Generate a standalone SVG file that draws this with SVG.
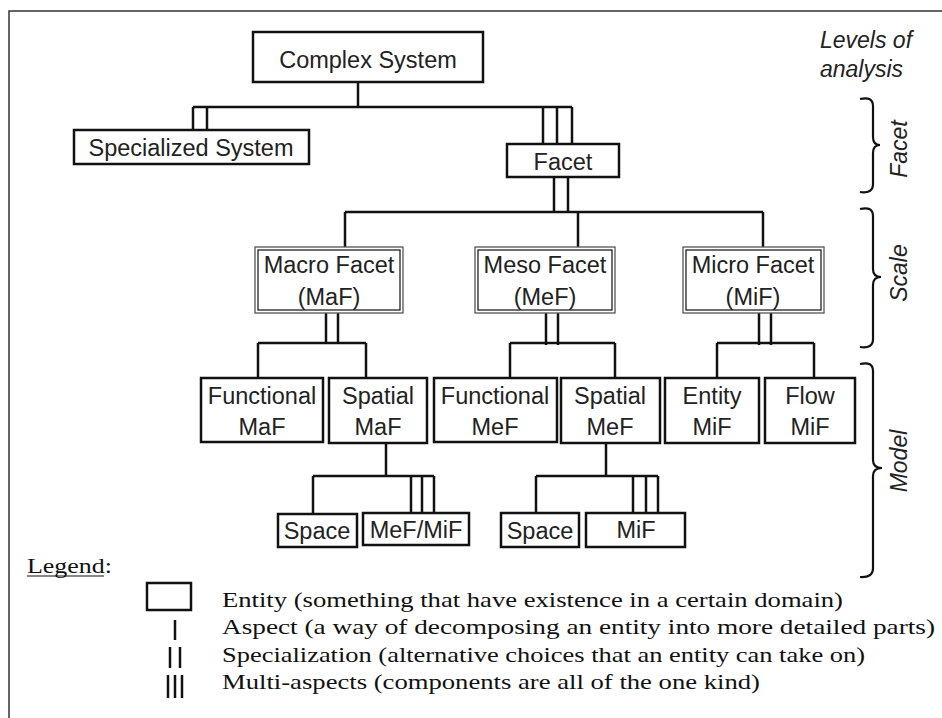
<svg xmlns="http://www.w3.org/2000/svg" width="942" height="718" viewBox="0 0 942 718">
<style>
.box{fill:#fff;stroke:#111;stroke-width:2.5}
.dbo{fill:#fff;stroke:#555;stroke-width:1.3}
.dbi{fill:none;stroke:#222;stroke-width:1.3}
.ln{fill:none;stroke:#111;stroke-width:2.5}
.br{fill:none;stroke:#111;stroke-width:2.2}
.t{font-family:"Liberation Sans",Arial,sans-serif;font-size:23.5px;fill:#222;text-anchor:middle}
.it{font-family:"Liberation Sans",Arial,sans-serif;font-size:23px;font-style:italic;fill:#222}
.lg{font-family:"Liberation Serif","Times New Roman",serif;font-size:21.5px;fill:#111}
</style>
<rect width="942" height="718" fill="#fff"/>
<path d="M9,718 V11 H942" fill="none" stroke="#333" stroke-width="1.5"/>

<g id="connectors">
  <path class="ln" d="M358,82 V107 M193,107 H572"/>
  <path class="ln" d="M193,107 V130 M207,107 V130"/>
  <path class="ln" d="M543,107 V144 M557,107 V144 M572,107 V144"/>
  <path class="ln" d="M554,177 V212 M568,177 V212"/>
  <path class="ln" d="M345,212 H763 M345,212 V247 M578,212 V247 M763,212 V247"/>
  <path class="ln" d="M326,313 V343 M338,313 V343 M258,343 H366 M258,343 V378 M366,343 V378"/>
  <path class="ln" d="M546,313 V345 M558,313 V345 M510,343 H615 M510,343 V378 M615,343 V378"/>
  <path class="ln" d="M759,313 V345 M771,313 V345 M717,343 H814 M717,343 V378 M814,343 V378"/>
  <path class="ln" d="M386,443 V476 M313,476 H434 M313,476 V514 M411,476 V513 M422,476 V513 M434,476 V513"/>
  <path class="ln" d="M606,443 V476 M536,476 H658 M536,476 V513 M633,476 V513 M646,476 V513 M658,476 V513"/>
</g>

<g id="complex-system"><rect class="box" x="253" y="32" width="230" height="50"/><text class="t" x="368" y="68">Complex System</text></g>
<g id="specialized-system"><rect class="box" x="74" y="130" width="235" height="34"/><text class="t" x="191" y="156">Specialized System</text></g>
<g id="facet"><rect class="box" x="507" y="144" width="112" height="33"/><text class="t" x="563" y="170">Facet</text></g>

<g id="macro-facet"><rect class="dbo" x="255" y="247" width="148" height="66"/><rect class="dbi" x="258" y="250" width="142" height="60"/><text class="t" x="329" y="273">Macro Facet</text><text class="t" x="329" y="305">(MaF)</text></g>
<g id="meso-facet"><rect class="dbo" x="475" y="247" width="140" height="66"/><rect class="dbi" x="478" y="250" width="134" height="60"/><text class="t" x="545" y="273">Meso Facet</text><text class="t" x="545" y="305">(MeF)</text></g>
<g id="micro-facet"><rect class="dbo" x="683" y="247" width="141" height="66"/><rect class="dbi" x="686" y="250" width="135" height="60"/><text class="t" x="753" y="273">Micro Facet</text><text class="t" x="753" y="305">(MiF)</text></g>

<g id="functional-maf"><rect class="box" x="201" y="378" width="122" height="64"/><text class="t" x="262" y="404">Functional</text><text class="t" x="262" y="435">MaF</text></g>
<g id="spatial-maf"><rect class="box" x="329" y="378" width="98" height="65"/><text class="t" x="378" y="404">Spatial</text><text class="t" x="378" y="435">MaF</text></g>
<g id="functional-mef"><rect class="box" x="434" y="378" width="123" height="64"/><text class="t" x="495" y="404">Functional</text><text class="t" x="495" y="435">MeF</text></g>
<g id="spatial-mef"><rect class="box" x="561" y="378" width="99" height="65"/><text class="t" x="610" y="404">Spatial</text><text class="t" x="610" y="435">MeF</text></g>
<g id="entity-mif"><rect class="box" x="665" y="378" width="94" height="65"/><text class="t" x="712" y="404">Entity</text><text class="t" x="712" y="435">MiF</text></g>
<g id="flow-mif"><rect class="box" x="765" y="378" width="90" height="65"/><text class="t" x="810" y="404">Flow</text><text class="t" x="810" y="435">MiF</text></g>

<g id="space-1"><rect class="box" x="278" y="514" width="79" height="33"/><text class="t" x="317" y="539">Space</text></g>
<g id="mef-mif"><rect class="box" x="363" y="513" width="106" height="32"/><text class="t" x="416" y="538">MeF/MiF</text></g>
<g id="space-2"><rect class="box" x="501" y="513" width="78" height="34"/><text class="t" x="540" y="539">Space</text></g>
<g id="mif"><rect class="box" x="586" y="513" width="99" height="34"/><text class="t" x="636" y="538">MiF</text></g>

<g id="levels">
  <text class="it" x="820" y="48">Levels of</text>
  <text class="it" x="820" y="77">analysis</text>
  <path class="br" d="M860,99 Q873,96 873,106 V137 Q873,145 880,145 Q873,145 873,153 V184 Q873,194 860,192"/>
  <text class="it" transform="translate(907,149) rotate(-90)" text-anchor="middle">Facet</text>
  <path class="br" d="M860,209 Q873,206 873,216 V269 Q873,277 881,277 Q873,277 873,285 V339 Q873,349 860,347"/>
  <text class="it" transform="translate(907,273) rotate(-90)" text-anchor="middle">Scale</text>
  <path class="br" d="M860,364 Q873,361 873,371 V460 Q873,468 882,468 Q873,468 873,476 V568 Q873,578 860,577"/>
  <text class="it" transform="translate(907,461) rotate(-90)" text-anchor="middle">Model</text>
</g>

<g id="legend">
  <text class="lg" x="27" y="573" textLength="85" lengthAdjust="spacingAndGlyphs">Legend:</text>
  <line x1="27" y1="576" x2="104" y2="576" stroke="#111" stroke-width="1.2"/>
  <rect class="box" x="147" y="583" width="44" height="27" stroke-width="2.2"/>
  <path class="ln" stroke-width="2.2" d="M175,620 V640 M170,647 V668 M180,647 V668 M168,675 V698 M175,675 V698 M182,675 V698"/>
  <text class="lg" x="222" y="607" textLength="621" lengthAdjust="spacingAndGlyphs">Entity (something that have existence in a certain domain)</text>
  <text class="lg" x="222" y="634" textLength="713" lengthAdjust="spacingAndGlyphs">Aspect (a way of decomposing an entity into more detailed parts)</text>
  <text class="lg" x="222" y="662" textLength="643" lengthAdjust="spacingAndGlyphs">Specialization (alternative choices that an entity can take on)</text>
  <text class="lg" x="222" y="689" textLength="538" lengthAdjust="spacingAndGlyphs">Multi-aspects (components are all of the one kind)</text>
</g>
</svg>
